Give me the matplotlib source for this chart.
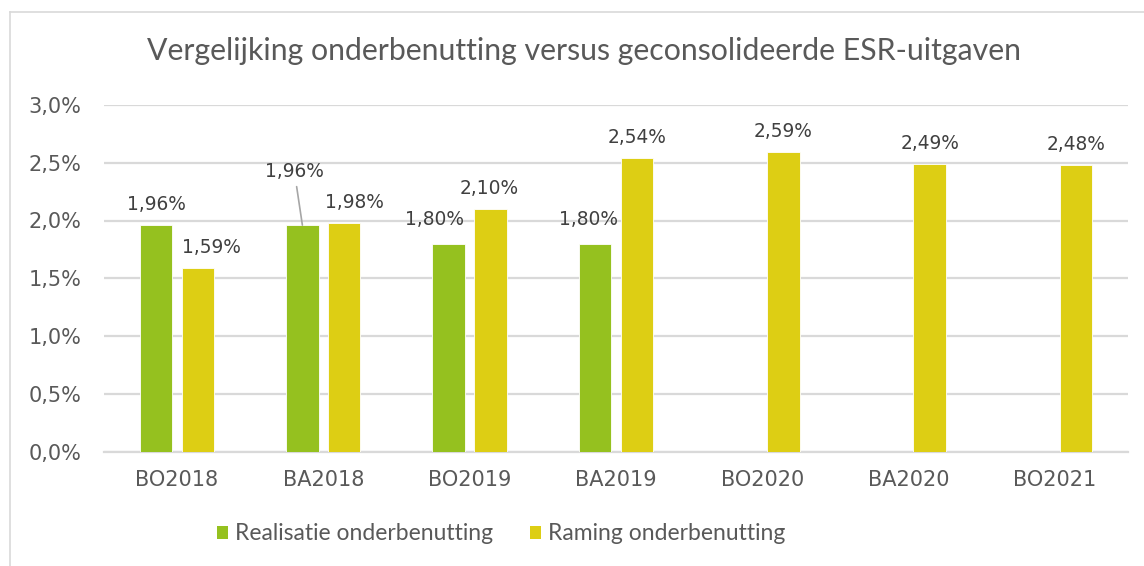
import matplotlib
matplotlib.use('Agg')
import matplotlib.pyplot as plt
from matplotlib.lines import Line2D
from matplotlib.patches import Patch
import numpy as np

# Data
categories = ['BO2018', 'BA2018', 'BO2019', 'BA2019', 'BO2020', 'BA2020', 'BO2021']
realisatie = [1.96, 1.96, 1.80, 1.80, None, None, None]
raming = [1.59, 1.98, 2.10, 2.54, 2.59, 2.49, 2.48]
series_names = ['Realisatie onderbenutting', 'Raming onderbenutting']
yticks = [0.0, 0.5, 1.0, 1.5, 2.0, 2.5, 3.0]

# Styling
GREEN = '#95C11F'
YELLOW = '#DDCE14'
GRID = '#D9D9D9'
TICK_COLOR = '#595959'
LABEL_COLOR = '#404040'
W, H = 1144, 566
PX = 72 / 100  # pixels -> points at dpi 100

# label nudges in pixels (dx, dy above bar top), as placed in the original
green_nudge = [(0, 15), (-8, 48), (-14, 19), (-7, 19), (0, 15), (0, 15), (0, 15)]
yellow_nudge = [(14, 15), (10, 15), (-1, 15), (0, 15), (0, 15), (0, 15), (0, 15)]


def fmt(v):
    return f'{v:.2f}%'.replace('.', ',')


fig = plt.figure(figsize=(W / 100, H / 100), dpi=100)
ax = fig.add_axes([103.8 / W, 1 - 451.5 / H, (1128.2 - 103.8) / W, (451.5 - 105) / H])

x = np.arange(len(categories))
bw = 0.222
off = 0.143

for i, v in enumerate(realisatie):
    if v is None:
        continue
    ax.bar(x[i] - off, v, bw, color=GREEN, edgecolor='white', linewidth=0.6, zorder=3)
for i, v in enumerate(raming):
    ax.bar(x[i] + off, v, bw, color=YELLOW, edgecolor='white', linewidth=0.6, zorder=3)

# data labels
for i, v in enumerate(realisatie):
    if v is None:
        continue
    dx, dy = green_nudge[i]
    arrow = None
    if dy > 30:
        arrow = dict(arrowstyle='-', color='#A6A6A6', lw=1.2, shrinkA=2, shrinkB=0)
    ax.annotate(fmt(v), (x[i] - off, v), xytext=(dx * PX, dy * PX),
                textcoords='offset points', ha='center', va='baseline',
                fontsize=13.4, color=LABEL_COLOR, arrowprops=arrow, zorder=4)
for i, v in enumerate(raming):
    dx, dy = yellow_nudge[i]
    ax.annotate(fmt(v), (x[i] + off, v), xytext=(dx * PX, dy * PX),
                textcoords='offset points', ha='center', va='baseline',
                fontsize=13.4, color=LABEL_COLOR, zorder=4)

ax.set_xlim(-0.5, len(categories) - 0.5)
ax.set_ylim(0, 3.0)
ax.set_yticks(yticks)
ax.set_yticklabels([f'{t:.1f}%'.replace('.', ',') for t in yticks])
ax.set_xticks(x)
ax.set_xticklabels(categories)
ax.tick_params(axis='both', length=0, labelsize=15, colors=TICK_COLOR)
ax.tick_params(axis='y', pad=16)
ax.tick_params(axis='x', pad=13)
ax.yaxis.grid(True, color=GRID, linewidth=1.6, zorder=0)
ax.set_axisbelow(True)
for s in ['top', 'right', 'left']:
    ax.spines[s].set_visible(False)
ax.spines['bottom'].set_color(GRID)
ax.spines['bottom'].set_linewidth(1.6)

# title
fig.text(584 / W, 1 - 51 / H, 'Vergelijking onderbenutting versus geconsolideerde ESR-uitgaven',
         ha='center', va='center', fontsize=21.8, color=TICK_COLOR, family='Lato')

# legend
handles = [Patch(facecolor=GREEN, edgecolor='none'), Patch(facecolor=YELLOW, edgecolor='none')]
leg = fig.legend(handles, series_names, loc='center', bbox_to_anchor=(501 / W, 1 - 534 / H),
                 ncol=2, frameon=False, handlelength=0.5, handleheight=0.5,
                 handletextpad=0.3, columnspacing=1.6,
                 prop={'family': 'Lato', 'size': 16.5})
for t in leg.get_texts():
    t.set_color(TICK_COLOR)

# outer chart border (left and top visible)
fig.add_artist(Line2D([9.5 / W, 9.5 / W], [0, 1 - 12 / H], color=GRID, lw=1.2))
fig.add_artist(Line2D([9.5 / W, 1], [1 - 12 / H, 1 - 12 / H], color=GRID, lw=1.2))

fig.savefig('out.png', dpi=100)
